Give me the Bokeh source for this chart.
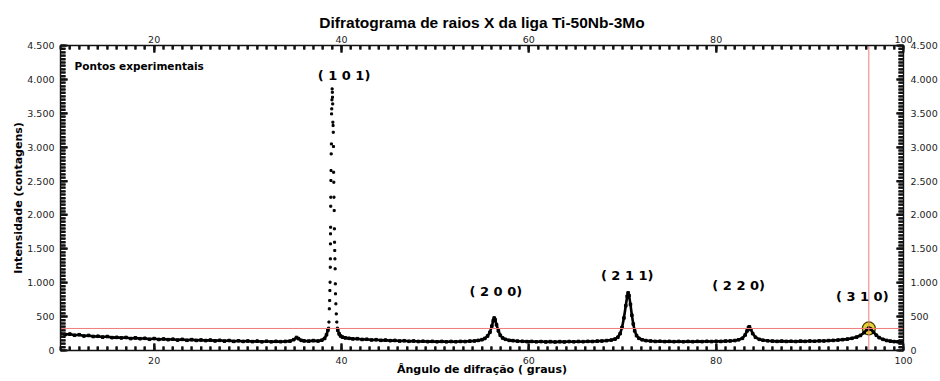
import math
from bokeh.plotting import figure
from bokeh.models import ColumnDataSource, FixedTicker, LinearAxis, Range1d
from bokeh.embed import file_html
from bokeh.resources import INLINE
from bokeh.core.properties import value

# ---------------- data ----------------
# scan before the (1 0 1) peak
ang_a = [10.0, 10.5, 11.0, 11.5, 12.0, 12.5, 13.0, 13.5, 14.0, 14.5, 15.0, 15.5, 16.0, 16.5,
         17.0, 17.5, 18.0, 18.5, 19.0, 19.5, 20.0, 20.5, 21.0, 21.5, 22.0, 22.5, 23.0, 23.5,
         24.0, 24.5, 25.0, 25.5, 26.0, 26.5, 27.0, 27.5, 28.0, 28.5, 29.0, 29.5, 30.0, 30.5,
         31.0, 31.5, 32.0, 32.5, 33.0, 33.5, 34.0, 34.5, 34.9, 35.2, 35.4, 35.7, 36.0, 36.5,
         37.0, 37.5, 37.9, 38.2, 38.4, 38.55]
cont_a = [248, 236, 242, 225, 233, 214, 222, 207, 211, 198, 206, 190, 194, 186, 192, 176, 186,
          174, 180, 166, 176, 163, 170, 160, 167, 154, 164, 151, 160, 149, 155, 146, 153, 142,
          150, 139, 147, 135, 143, 134, 140, 131, 138, 128, 137, 128, 135, 130, 134, 138, 160,
          192, 175, 150, 142, 138, 146, 140, 152, 178, 232, 300]

# (1 0 1) peak points
ang_101 = [38.62, 38.66, 38.70, 38.74, 38.76, 38.78, 38.80, 38.81, 38.82, 38.83, 38.84, 38.85,
           38.86, 38.87, 38.88, 38.90, 38.92, 38.94, 38.96, 38.98, 39.00, 39.02, 39.04, 39.06,
           39.08, 39.10, 39.12, 39.14, 39.16, 39.18, 39.20, 39.22, 39.24, 39.26, 39.28, 39.30,
           39.32, 39.34, 39.36, 39.40, 39.44, 39.50, 39.56]
cont_101 = [330, 420, 615, 737, 885, 1008, 1229, 1352, 1573, 1721, 1819, 2129, 2262, 2508,
            2655, 2901, 3048, 3491, 3565, 3698, 3860, 3810, 3737, 3638, 3368, 3319, 3220, 3009,
            2630, 2483, 2262, 2065, 1795, 1598, 1475, 1352, 1205, 983, 836, 688, 540, 420, 330]

# scan after the (1 0 1) peak
ang_b = [39.6, 39.75, 39.9, 40.1, 40.4, 40.8, 41.2, 41.7, 42.2, 42.7, 43.2, 43.7, 44.2, 44.7,
         45.2, 45.7, 46.2, 46.7, 47.2, 47.7, 48.2, 48.7, 49.2, 49.7, 50.2, 50.7, 51.2, 51.7,
         52.2, 52.7, 53.2, 53.7, 54.2, 54.6, 55.0, 55.3, 55.6, 55.85, 56.05, 56.2, 56.3, 56.4,
         56.55, 56.75, 56.95, 57.2, 57.5, 57.9, 58.3, 58.8, 59.3, 59.8, 60.3, 60.8, 61.3, 61.8,
         62.3, 62.8, 63.3, 63.8, 64.3, 64.8, 65.3, 65.8, 66.3, 66.8, 67.3, 67.8, 68.3, 68.8,
         69.2, 69.5, 69.75, 69.95, 70.15, 70.35, 70.5, 70.6, 70.7, 70.85, 71.0, 71.15, 71.3,
         71.5, 71.75, 72.1, 72.5, 73.0, 73.5, 74.0, 74.5, 75.0, 75.5, 76.0, 76.5, 77.0, 77.5,
         78.0, 78.5, 79.0, 79.5, 80.0, 80.5, 81.0, 81.5, 82.0, 82.4, 82.8, 83.1, 83.3, 83.45,
         83.55, 83.7, 83.9, 84.2, 84.6, 85.0, 85.5, 86.0, 86.5, 87.0, 87.5, 88.0, 88.5, 89.0,
         89.5, 90.0, 90.5, 91.0, 91.5, 92.0, 92.5, 93.0, 93.5, 94.0, 94.5, 95.0, 95.4, 95.8,
         96.1, 96.3, 96.5, 96.8, 97.1, 97.4, 97.8, 98.2, 98.6, 99.0, 99.4, 99.7, 100.0]
cont_b = [300, 245, 215, 198, 186, 180, 172, 174, 163, 166, 156, 159, 150, 153, 145, 148, 140,
          144, 136, 140, 133, 137, 131, 135, 129, 134, 128, 133, 129, 134, 132, 138, 141, 149,
          160, 178, 215, 270, 360, 440, 480, 455, 380, 290, 225, 185, 165, 150, 145, 138, 136,
          131, 134, 128, 132, 127, 131, 126, 131, 127, 132, 128, 133, 130, 135, 133, 138, 140,
          146, 154, 168, 195, 250, 340, 480, 660, 800, 850, 810, 680, 520, 390, 290, 220, 180,
          158, 146, 140, 134, 137, 131, 135, 130, 134, 129, 134, 130, 135, 131, 136, 132, 137,
          134, 139, 141, 147, 158, 180, 230, 290, 340, 350, 310, 250, 195, 165, 152, 143, 139,
          135, 138, 134, 137, 133, 138, 135, 140, 137, 142, 141, 146, 149, 154, 160, 168, 180,
          198, 222, 265, 310, 330, 315, 270, 225, 190, 165, 148, 138, 131, 128, 125, 122]

# peak indices
peak_names = ["( 1 0 1)", "( 2 0 0)", "( 2 1 1)", "( 2 2 0)", "( 3 1 0)"]
label_ang = [40.27, 56.48, 70.5, 82.4, 95.6]
label_int = [4056, 875, 1107, 959, 801]

# cursor (crosshair) point
cursor_ang = 96.3
cursor_int = 325

title_text = "Difratograma de raios X da liga Ti-50Nb-3Mo"
legend_text = "Pontos experimentais"
legend_ang = 11.5
legend_int = 4200
x_title = "Ângulo de difração ( graus)"
y_title = "Intensidade (contagens)"

x_ticks = [20, 40, 60, 80, 100]
x_tick_labels = ["20", "40", "60", "80", "100"]
y_ticks = [0, 500, 1000, 1500, 2000, 2500, 3000, 3500, 4000, 4500]
y_tick_labels = ["0", "500", "1.000", "1.500", "2.000", "2.500", "3.000", "3.500", "4.000", "4.500"]
x_minor = list(range(10, 101, 1))
y_minor = list(range(0, 4501, 50))

# ---------------- figure ----------------
TICK_FONT = "DejaVu Sans"
BOLD_FONT = "DejaVu Sans"
X0, X1, Y0, Y1 = 10, 100, 0, 4500

p = figure(width=940, height=381, output_backend="svg", toolbar_location=None,
           x_range=Range1d(X0, X1), y_range=Range1d(Y0, Y1),
           x_axis_location=None, y_axis_location=None,
           min_border_left=60, min_border_right=36, min_border_top=45, min_border_bottom=31)
p.grid.grid_line_color = None
p.outline_line_color = None

p.title.text = title_text
p.title.align = "center"
p.title.offset = -7
p.title.text_font = "Liberation Sans"
p.title.text_font_size = "15.5px"
p.title.text_font_style = "bold"
p.title.text_color = "black"
p.title.standoff = 3


def style_axis(ax, ticks, minor, labels, standoff, maj_len, min_len):
    ax.ticker = FixedTicker(ticks=ticks, minor_ticks=minor)
    ax.major_label_overrides = {t: l for t, l in zip(ticks, labels)}
    ax.major_tick_in = maj_len
    ax.major_tick_out = 0
    ax.minor_tick_in = min_len
    ax.minor_tick_out = 0
    ax.major_tick_line_color = "#111111"
    ax.minor_tick_line_color = "#111111"
    ax.major_tick_line_width = 2
    ax.minor_tick_line_width = 2
    ax.axis_line_width = 1.4
    ax.axis_line_color = "#111111"
    ax.major_label_text_font = TICK_FONT
    ax.major_label_text_font_size = "9.5px"
    ax.major_label_text_color = "#222222"
    ax.major_label_standoff = standoff


xb = LinearAxis()
style_axis(xb, x_ticks, x_minor, x_tick_labels, 6, 7, 4)
xb.axis_label = x_title
xb.axis_label_text_font = BOLD_FONT
xb.axis_label_text_font_size = "11px"
xb.axis_label_text_font_style = "bold"
xb.axis_label_text_color = "black"
xb.axis_label_standoff = -4
p.add_layout(xb, "below")

xt = LinearAxis()
style_axis(xt, x_ticks, x_minor, x_tick_labels, 3, 7, 4)
p.add_layout(xt, "above")

yl = LinearAxis()
style_axis(yl, y_ticks, y_minor, y_tick_labels, 6, 7, 5)
yl.axis_label = y_title
yl.axis_label_text_font = BOLD_FONT
yl.axis_label_text_font_size = "11px"
yl.axis_label_text_font_style = "bold"
yl.axis_label_text_color = "black"
yl.axis_label_standoff = -1
p.add_layout(yl, "left")

yr = LinearAxis()
style_axis(yr, y_ticks, y_minor, y_tick_labels, 7, 7, 5)
p.add_layout(yr, "right")

# inward tick marks also as dash markers centred on the frame edge (the frame clips the outer half)
x_maj = [t for t in x_minor if t in x_ticks]
x_min = [t for t in x_minor if t not in x_ticks]
y_maj = [t for t in y_minor if t in y_ticks]
y_min = [t for t in y_minor if t not in y_ticks]
for xs, sz in ((x_maj, 14), (x_min, 8)):
    p.scatter(x=xs + xs, y=[Y0] * len(xs) + [Y1] * len(xs), marker="dash", angle=math.pi / 2,
              size=sz, line_color="#111111", line_width=2)
for ys, sz in ((y_maj, 14), (y_min, 10)):
    p.scatter(x=[X0] * len(ys) + [X1] * len(ys), y=ys + ys, marker="dash", angle=0,
              size=sz, line_color="#111111", line_width=2)

# scan points
src_a = ColumnDataSource(dict(x=ang_a, y=cont_a))
src_b = ColumnDataSource(dict(x=ang_b, y=cont_b))
src_p = ColumnDataSource(dict(x=ang_101, y=cont_101))

# cursor marker (under the scan points, as in the picture)
p.scatter(x=[cursor_ang], y=[cursor_int], size=13, marker="circle",
          fill_color="#e6d331", line_color="#4a4400", line_width=1.3)

for s in (src_a, src_b):
    p.line("x", "y", source=s, line_color="black", line_width=2.6)
    p.scatter("x", "y", source=s, marker="square", size=2.6, fill_color="black", line_color="black")
p.scatter("x", "y", source=src_p, marker="square", size=2.0, fill_color="black", line_color="black")

# crosshair through the cursor point
p.segment(x0=[cursor_ang, X0], y0=[Y0, cursor_int], x1=[cursor_ang, X1], y1=[Y1, cursor_int],
          line_color="#f07c7c", line_width=1)

# peak labels
lab_src = ColumnDataSource(dict(x=label_ang, y=label_int, t=peak_names))
p.text(x="x", y="y", text="t", source=lab_src, text_align="center", text_baseline="middle",
       text_font=value(BOLD_FONT), text_font_size="13px", text_font_style="bold",
       text_color="black")

# legend text
p.text(x=[legend_ang], y=[legend_int], text=[legend_text], text_align="left",
       text_baseline="middle", text_font=value(BOLD_FONT), text_font_size="10.5px",
       text_font_style="bold", text_color="black")

open("out.html", "w").write(file_html(p, INLINE))
